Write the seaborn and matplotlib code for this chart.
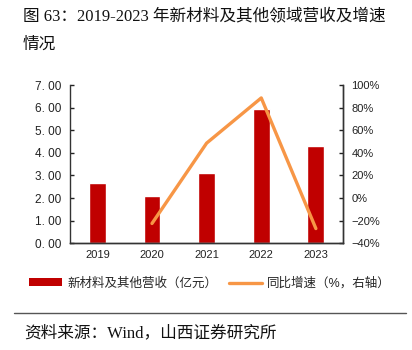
import seaborn as sns
import pandas as pd
import numpy as np
import matplotlib.pyplot as plt
from matplotlib.ticker import FuncFormatter
from matplotlib.patches import Patch
from matplotlib.lines import Line2D

years = ["2019", "2020", "2021", "2022", "2023"]
revenue = [2.68, 2.11, 3.11, 5.92, 4.32]
growth_years = ["2020", "2021", "2022", "2023"]
growth = [-22.5, 48.6, 88.6, -27.0]

bar_color = "#C00000"
line_color = "#F79646"
cjk = ["Liberation Serif", "Noto Sans CJK SC"]
sans = ["Liberation Sans", "Noto Sans CJK SC"]

sns.set_style("white")
plt.rcParams["font.family"] = sans

df = pd.DataFrame({"year": years, "revenue": revenue})
gdf = pd.DataFrame({"x": [years.index(y) for y in growth_years], "growth": growth})

fig = plt.figure(figsize=(4.12, 3.5), dpi=100)
ax = fig.add_axes([0.170, 0.305, 0.663, 0.452])

sns.barplot(data=df, x="year", y="revenue", color=bar_color, width=0.31,
            saturation=1, ax=ax)
ax.set_ylim(0, 7)
ax.set_xlim(-0.5, 4.5)
ax.set_yticks(np.arange(0, 7.01, 1))
ax.yaxis.set_major_formatter(FuncFormatter(lambda v, p: f"{v:.2f}".replace(".", ". ")))
ax.set_xlabel("")
ax.set_ylabel("")

ax2 = ax.twinx()
sns.lineplot(data=gdf, x="x", y="growth", color=line_color, linewidth=2.4, ax=ax2)
ax2.set_ylim(-40, 100)
ax2.set_yticks(np.arange(-40, 101, 20))
ax2.yaxis.set_major_formatter(FuncFormatter(lambda v, p: f"{v:.0f}%".replace("-", "−")))
ax2.set_ylabel("")
ax2.set_xlabel("")
ax.set_xlim(-0.5, 4.5)

for a in (ax, ax2):
    a.spines["top"].set_visible(False)
    for s in ("left", "right", "bottom"):
        a.spines[s].set_color("#333333")
        a.spines[s].set_linewidth(1.0)

ax.tick_params(axis="y", direction="in", length=3, width=1, labelsize=8.5, pad=6, colors="#222222")
ax.tick_params(axis="x", length=0, labelsize=8, pad=5, colors="#222222")
ax2.tick_params(axis="y", direction="in", length=3, width=1, labelsize=8, pad=6, colors="#222222")
ax2.spines["left"].set_visible(False)

fig.text(0.055, 0.952, "图 63：2019-2023 年新材料及其他领域营收及增速",
         fontsize=12, family=cjk, color="#111111", va="center")
fig.text(0.055, 0.872, "情况", fontsize=12, family=cjk, color="#111111", va="center")

handles = [Patch(facecolor=bar_color, edgecolor="none"),
           Line2D([0], [0], color=line_color, linewidth=2.4)]
labels = ["新材料及其他营收（亿元）", "同比增速（%，右轴）"]
fig.legend(handles, labels, loc="center", bbox_to_anchor=(0.51, 0.19), ncol=2,
           frameon=False, fontsize=9, handlelength=2.6, handleheight=0.6,
           columnspacing=1.0, handletextpad=0.4)

fig.add_artist(Line2D([0.035, 0.985], [0.105, 0.105], color="#555555", linewidth=1.0))
fig.text(0.058, 0.048, "资料来源：Wind，山西证券研究所", fontsize=12,
         family=cjk, color="#111111", va="center")

plt.savefig("out.png", dpi=100)
